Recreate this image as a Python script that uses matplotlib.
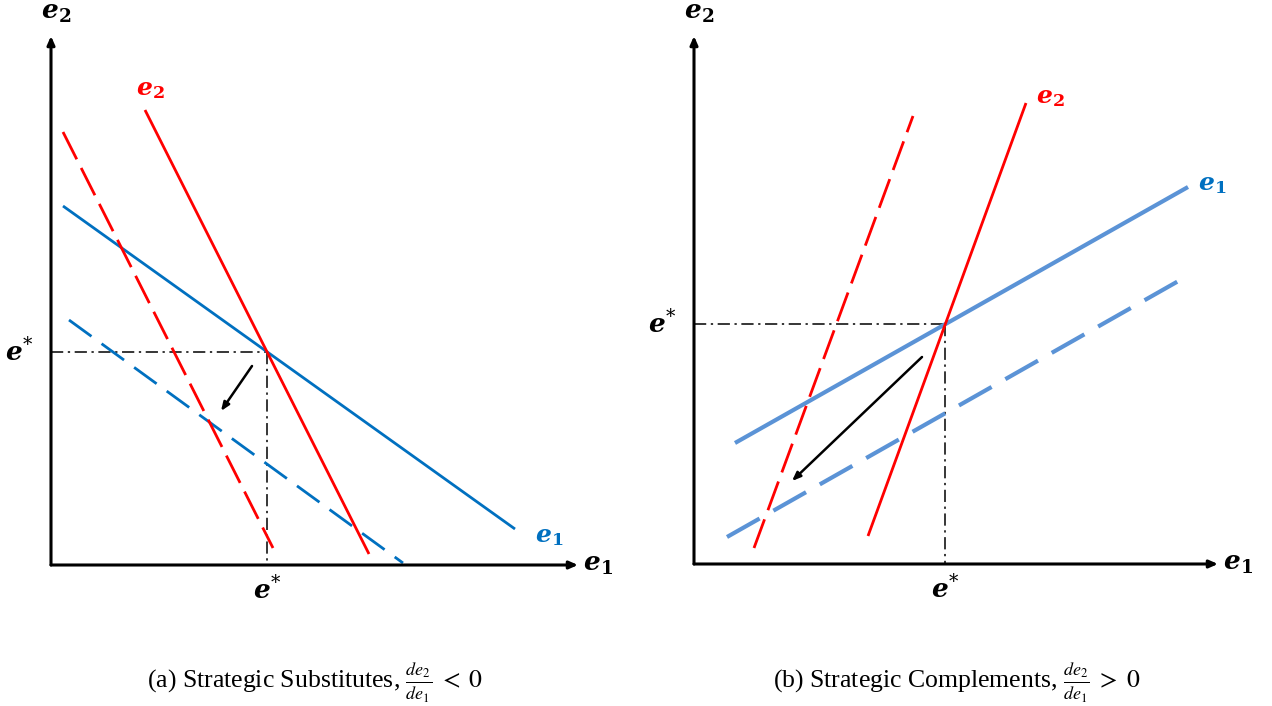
import numpy as np
import matplotlib
matplotlib.use("Agg")
import matplotlib.pyplot as plt

plt.rcParams["mathtext.fontset"] = "stix"
plt.rcParams["font.family"] = ["Liberation Serif", "DejaVu Serif"]

# ---- Panel (a): strategic substitutes (best responses slope downward) ----
a_e1_solid_x = [0.24, 9.28]
a_e1_solid_y = [7.18, 0.72]
a_e1_dash_x = [0.36, 7.04]
a_e1_dash_y = [4.90, 0.04]
a_e2_solid_x = [1.88, 6.36]
a_e2_solid_y = [9.10, 0.22]
a_e2_dash_x = [0.24, 4.44]
a_e2_dash_y = [8.66, 0.34]
a_shift_from = [4.02, 3.98]
a_shift_to = [3.40, 3.08]

# ---- Panel (b): strategic complements (best responses slope upward) ----
b_e1_solid_x = [0.82, 9.88]
b_e1_solid_y = [2.42, 7.54]
b_e1_dash_x = [0.66, 9.76]
b_e1_dash_y = [0.54, 5.70]
b_e2_solid_x = [3.48, 6.64]
b_e2_solid_y = [0.56, 9.22]
b_e2_dash_x = [1.20, 4.38]
b_e2_dash_y = [0.32, 8.96]
b_shift_from = [4.56, 4.14]
b_shift_to = [1.96, 1.66]

captions = [r"(a) Strategic Substitutes, $\frac{de_2}{de_1}\;<\;0$",
            r"(b) Strategic Complements, $\frac{de_2}{de_1}\;>\;0$"]

RED = "#FF0000"
BLUE_A = "#0070C0"
BLUE_B = "#5B93D6"
LABEL_BLUE = "#0070C0"

E1 = r"$\mathbfit{e}_{\mathbf{1}}$"
E2 = r"$\mathbfit{e}_{\mathbf{2}}$"
ESTAR = r"$\mathbfit{e}^{*}$"
LBL = dict(math_fontfamily="dejavuserif")


def intersect(x1, y1, x2, y2):
    m1 = (y1[1] - y1[0]) / (x1[1] - x1[0])
    m2 = (y2[1] - y2[0]) / (x2[1] - x2[0])
    c1 = y1[0] - m1 * x1[0]
    c2 = y2[0] - m2 * x2[0]
    x = (c2 - c1) / (m1 - m2)
    return x, m1 * x + c1


def draw_frame(ax, xmax, ymax):
    style = "-|>,head_length=0.5,head_width=0.22"
    ax.annotate("", xy=(xmax, 0), xytext=(0, 0),
                arrowprops=dict(arrowstyle=style, color="black", lw=2.2,
                                shrinkA=0, shrinkB=0))
    ax.annotate("", xy=(0, ymax), xytext=(0, 0),
                arrowprops=dict(arrowstyle=style, color="black", lw=2.2,
                                shrinkA=0, shrinkB=0))
    ax.text(xmax + 0.1, -0.02, E1, fontsize=19, ha="left", va="center", **LBL)
    ax.text(0.1, ymax + 0.45, E2, fontsize=19, ha="center", va="center", **LBL)


def draw_eq(ax, ex, ey):
    ax.plot([0, ex], [ey, ey], color="black", lw=1.1, dashes=(8, 3, 1.5, 3))
    ax.plot([ex, ex], [ey, 0], color="black", lw=1.1, dashes=(8, 3, 1.5, 3))
    ax.text(-0.36, ey, ESTAR, fontsize=19, ha="right", va="center", **LBL)
    ax.text(ex, -0.22, ESTAR, fontsize=19, ha="center", va="top", **LBL)


def shift_arrow(ax, p0, p1):
    ax.annotate("", xy=p1, xytext=p0,
                arrowprops=dict(arrowstyle="-|>,head_length=0.5,head_width=0.2",
                                color="black", lw=1.8, shrinkA=0, shrinkB=0))


fig = plt.figure(figsize=(12.72, 7.06), dpi=100)

# Panel (a)
ax = fig.add_axes([0.0, 0.0, 0.5, 1.0])
ax.set_xlim(-1.02, 11.70)
ax.set_ylim(-2.82, 11.30)
ax.axis("off")
draw_frame(ax, 10.54, 10.58)
ex, ey = intersect(a_e1_solid_x, a_e1_solid_y, a_e2_solid_x, a_e2_solid_y)
draw_eq(ax, ex, ey)
ax.plot(a_e1_solid_x, a_e1_solid_y, color=BLUE_A, lw=2.0, solid_capstyle="butt")
ax.plot(a_e1_dash_x, a_e1_dash_y, color=BLUE_A, lw=2.0, dashes=(10, 4.5))
ax.plot(a_e2_solid_x, a_e2_solid_y, color=RED, lw=2.0, solid_capstyle="butt")
ax.plot(a_e2_dash_x, a_e2_dash_y, color=RED, lw=2.0, dashes=(11, 3.5))
shift_arrow(ax, a_shift_from, a_shift_to)
ax.text(a_e2_solid_x[0] + 0.1, a_e2_solid_y[0] + 0.4, E2,
        fontsize=18, color=RED, ha="center", va="center", **LBL)
ax.text(a_e1_solid_x[1] + 0.4, a_e1_solid_y[1] - 0.16, E1,
        fontsize=18, color=LABEL_BLUE, ha="left", va="center", **LBL)

# Panel (b)
bx = fig.add_axes([0.5, 0.0, 0.5, 1.0])
bx.set_xlim(-1.16, 11.56)
bx.set_ylim(-2.84, 11.28)
bx.axis("off")
draw_frame(bx, 10.48, 10.56)
ex, ey = intersect(b_e1_solid_x, b_e1_solid_y, b_e2_solid_x, b_e2_solid_y)
draw_eq(bx, ex, ey)
bx.plot(b_e1_solid_x, b_e1_solid_y, color=BLUE_B, lw=3.0, solid_capstyle="butt")
bx.plot(b_e1_dash_x, b_e1_dash_y, color=BLUE_B, lw=3.0, dashes=(9, 3.8))
bx.plot(b_e2_solid_x, b_e2_solid_y, color=RED, lw=2.0, solid_capstyle="butt")
bx.plot(b_e2_dash_x, b_e2_dash_y, color=RED, lw=2.0, dashes=(11, 3.5))
shift_arrow(bx, b_shift_from, b_shift_to)
bx.text(b_e2_solid_x[1] + 0.2, b_e2_solid_y[1] + 0.1, E2,
        fontsize=18, color=RED, ha="left", va="center", **LBL)
bx.text(b_e1_solid_x[1] + 0.2, b_e1_solid_y[1] + 0.05, E1,
        fontsize=18, color=LABEL_BLUE, ha="left", va="center", **LBL)

fig.text(315 / 1272, 1 - 682 / 706, captions[0], fontsize=18.5, ha="center",
         va="center", math_fontfamily="stix")
fig.text(957 / 1272, 1 - 682 / 706, captions[1], fontsize=18.5, ha="center",
         va="center", math_fontfamily="stix")

fig.savefig("out.png", dpi=100, facecolor="white")
